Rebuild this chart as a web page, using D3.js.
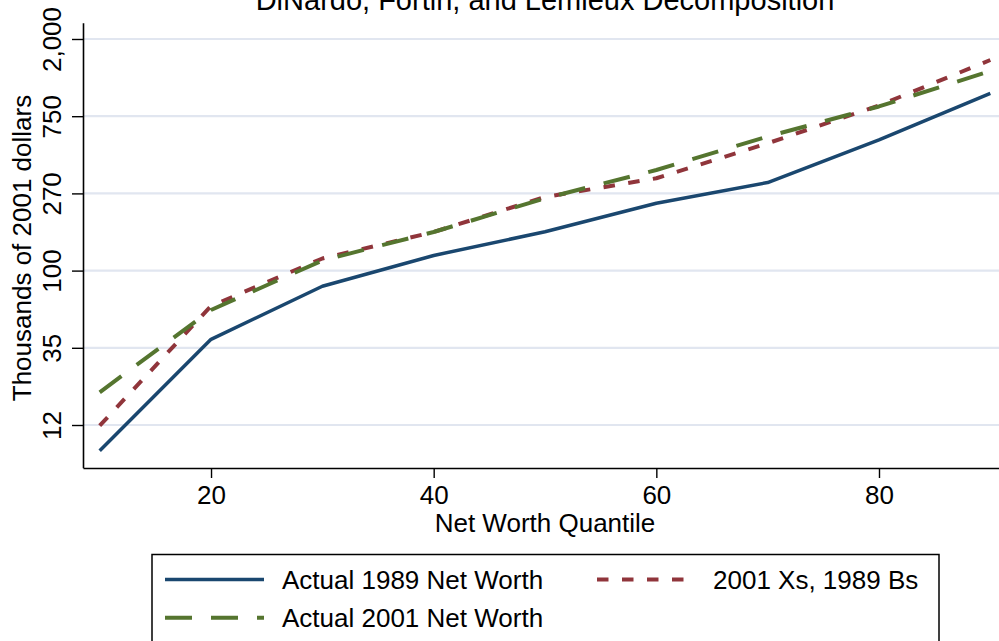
<!DOCTYPE html>
<html>
<head>
<meta charset="utf-8">
<script src="https://cdn.jsdelivr.net/npm/d3@7"></script>
<style>
  html, body { margin: 0; padding: 0; background: #fff; }
  svg { display: block; font-family: "Liberation Sans", Arial, Helvetica, sans-serif; }
</style>
</head>
<body>
<svg id="chart" width="999" height="641"></svg>
<script>
// Net worth quantiles (percentiles)
const quantiles = [10, 20, 30, 40, 50, 60, 70, 80, 90];

// Log of net worth, thousands of 2001 dollars
const actual1989 = [2.167, 3.610, 4.297, 4.696, 5.004, 5.372, 5.641, 6.192, 6.797];
const actual2001 = [2.924, 3.990, 4.631, 5.000, 5.437, 5.803, 6.237, 6.626, 7.085];
const xs2001bs1989 = [2.491, 4.041, 4.657, 5.000, 5.453, 5.696, 6.149, 6.639, 7.228];

// Axis ticks: y ticks sit on the log scale, labelled in thousands of dollars
const xTickValues = [20, 40, 60, 80];
const yTickValues = [2.5, 3.5, 4.5, 5.5, 6.5, 7.5];
const yTickLabels = ["12", "35", "100", "270", "750", "2,000"];

const seriesNames = ["Actual 1989 Net Worth", "Actual 2001 Net Worth", "2001 Xs, 1989 Bs"];

const svg = d3.select("#chart");

const x = d3.scaleLinear().domain([8.5, 90.78]).range([83, 999]);
const y = d3.scaleLinear().domain([1.947, 7.711]).range([467.7, 22.7]);

// Gridlines
svg.append("g")
  .selectAll("line")
  .data(yTickValues)
  .join("line")
  .attr("x1", 83).attr("x2", 999)
  .attr("y1", d => y(d)).attr("y2", d => y(d))
  .attr("stroke", "#e1e6f0")
  .attr("stroke-width", 2.2);

// Y axis
const yAxis = svg.append("g")
  .attr("transform", "translate(83,0)")
  .call(d3.axisLeft(y).tickValues(yTickValues)
    .tickFormat((d, i) => yTickLabels[i]).tickSize(11).tickSizeOuter(0));
yAxis.select(".domain").attr("stroke", "#000").attr("stroke-width", 1.6);
yAxis.selectAll(".tick line").attr("stroke", "#000").attr("stroke-width", 1.4);
yAxis.selectAll(".tick text")
  .attr("x", null).attr("y", null).attr("dy", null)
  .attr("transform", "translate(-22,0) rotate(-90)")
  .attr("text-anchor", "middle")
  .attr("fill", "#000")
  .style("font-size", "26px")
  .style("font-family", "'Liberation Sans', Arial, sans-serif");

// X axis
const xAxis = svg.append("g")
  .attr("transform", "translate(0,468)")
  .call(d3.axisBottom(x).tickValues(xTickValues).tickSize(10).tickSizeOuter(0));
xAxis.select(".domain").attr("stroke", "#000").attr("stroke-width", 1.6);
xAxis.selectAll(".tick line").attr("stroke", "#000").attr("stroke-width", 1.4);
xAxis.selectAll(".tick text")
  .attr("y", null).attr("dy", null)
  .attr("transform", "translate(0,35.5)")
  .attr("fill", "#000")
  .style("font-size", "26px")
  .style("font-family", "'Liberation Sans', Arial, sans-serif");

// Axis titles
svg.append("text")
  .attr("x", 545).attr("y", 531.5)
  .attr("text-anchor", "middle")
  .style("font-size", "26px")
  .text("Net Worth Quantile");

svg.append("text")
  .attr("transform", "translate(31,248) rotate(-90)")
  .attr("text-anchor", "middle")
  .style("font-size", "26px")
  .text("Thousands of 2001 dollars");

// Title
svg.append("text")
  .attr("x", 545).attr("y", 10)
  .attr("text-anchor", "middle")
  .style("font-size", "29px")
  .text("DiNardo, Fortin, and Lemieux Decomposition");

// Series
const styles = [
  { values: actual1989, color: "#1a476f", width: 3.5, dash: null },
  { values: actual2001, color: "#55752f", width: 4, dash: "27,19" },
  { values: xs2001bs1989, color: "#90353b", width: 4, dash: "11.5,13.5" }
];

const line = d3.line()
  .x(d => x(d[0]))
  .y(d => y(d[1]));

// draw order: 1989 actual, 2001 Xs/1989 Bs, 2001 actual on top
[0, 2, 1].forEach(i => {
  const s = styles[i];
  svg.append("path")
    .datum(quantiles.map((q, j) => [q, s.values[j]]))
    .attr("fill", "none")
    .attr("stroke", s.color)
    .attr("stroke-width", s.width)
    .attr("stroke-dasharray", s.dash)
    .attr("stroke-linejoin", "round")
    .attr("d", line);
});

// Legend
const legend = svg.append("g");
legend.append("rect")
  .attr("x", 152).attr("y", 554.5)
  .attr("width", 787).attr("height", 120)
  .attr("fill", "#fff")
  .attr("stroke", "#000")
  .attr("stroke-width", 1.5);

const legendItems = [
  { name: seriesNames[0], style: styles[0], kx: 165, kw: 99, ty: 579.5 },
  { name: seriesNames[2], style: styles[2], kx: 597, kw: 88, ty: 579.5 },
  { name: seriesNames[1], style: styles[1], kx: 165, kw: 99, ty: 617.7 }
];

legendItems.forEach(it => {
  legend.append("line")
    .attr("x1", it.kx).attr("x2", it.kx + it.kw)
    .attr("y1", it.ty).attr("y2", it.ty)
    .attr("stroke", it.style.color)
    .attr("stroke-width", it.style.width)
    .attr("stroke-dasharray", it.style.dash);
  legend.append("text")
    .attr("x", it.kx + it.kw + (it.kx === 165 ? 18 : 28))
    .attr("y", it.ty + 9.3)
    .style("font-size", "26px")
    .text(it.name);
});
</script>
</body>
</html>
